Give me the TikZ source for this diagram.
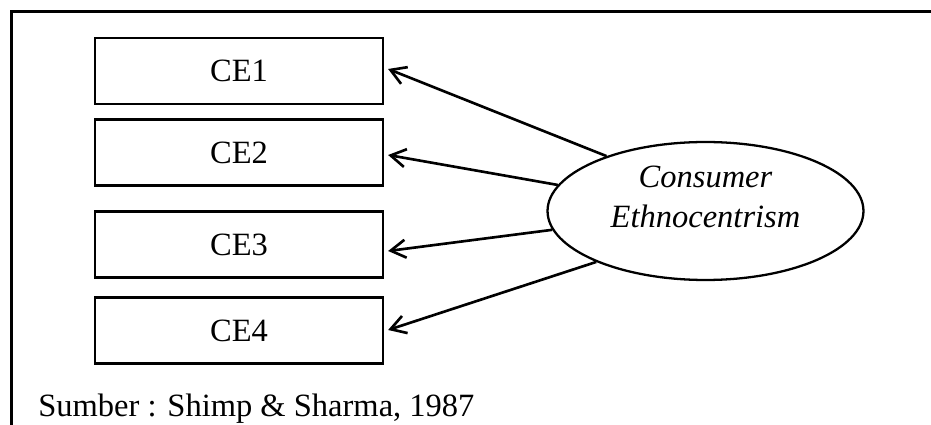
\documentclass[tikz,border=0pt]{standalone}
\usepackage{fontspec}
\setmainfont{Liberation Serif}
\usetikzlibrary{shapes.geometric,arrows.meta,positioning,calc}

\begin{document}
\begin{tikzpicture}[
    x=0.02cm, y=-0.02cm,
    frame/.style={line width=1.4pt, black},
    itembox/.style={rectangle, draw, line width=1.3pt, minimum width=5.76cm,
                minimum height=1.32cm, inner sep=0pt, font=\fontsize{18.5}{23}\selectfont},
    construct/.style={ellipse, draw, line width=1.3pt, minimum width=6.32cm,
                minimum height=2.76cm, inner sep=0pt, align=center,
                font=\fontsize{18.5}{23}\selectfont\itshape},
    arr/.style={-{Straight Barb[length=3mm, width=3.6mm]}, line width=1.5pt}
]
    \useasboundingbox (0,0) rectangle (931,425);
    \draw[frame] (11.5,425) -- (11.5,11.5) -- (931,11.5);

    \node[itembox] (ce1) at (239, 71)   {CE1};
    \node[itembox] (ce2) at (239, 152.5) {CE2};
    \node[itembox] (ce3) at (239, 244.5) {CE3};
    \node[itembox] (ce4) at (239, 330.5) {CE4};

    \node[construct] (cet) at (705.5, 211) {Consumer\\Ethnocentrism\\[-7pt]};

    \draw[arr] (cet.151.7) -- ([shift={(4,-2)}]ce1.east);
    \draw[arr] (cet.170.8) -- ([shift={(4,2.5)}]ce2.east);
    \draw[arr] (cet.187)   -- ([shift={(4,6.5)}]ce3.east);
    \draw[arr] (cet.205.2) -- ([shift={(4,-0.5)}]ce4.east);

    \node[anchor=base west, inner sep=0pt, font=\fontsize{18.5}{23}\selectfont]
        (src) at (38,417) {Sumber : Shimp \& Sharma, 1987};
\end{tikzpicture}
\end{document}
